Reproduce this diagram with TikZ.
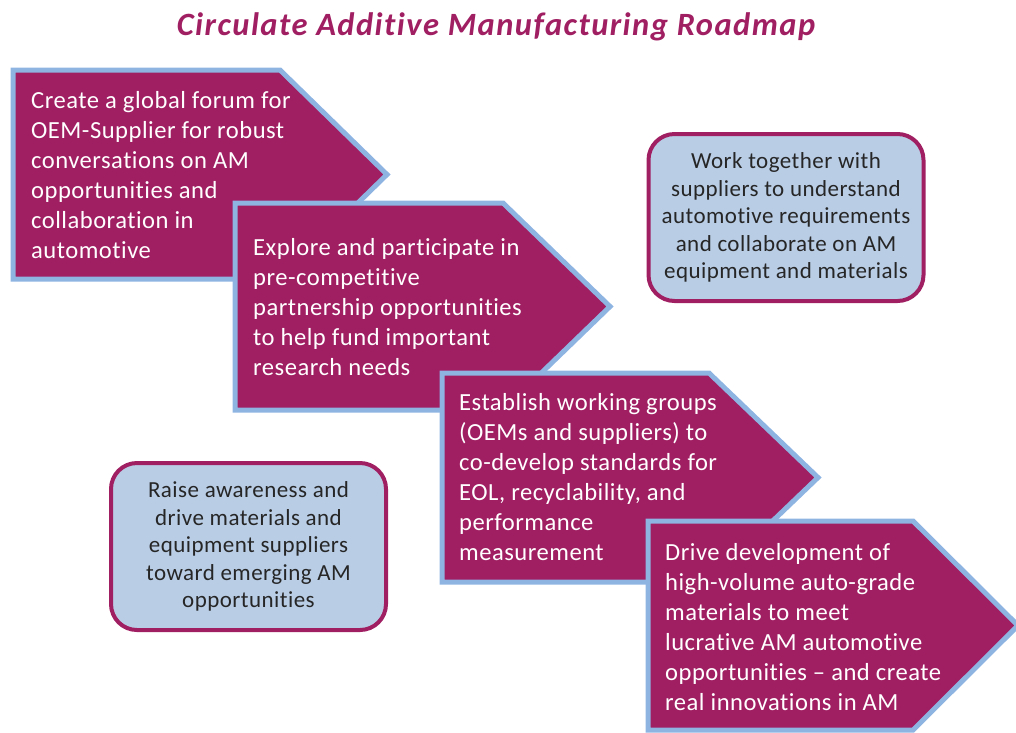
\documentclass[tikz,border=0pt]{standalone}
\usepackage{fontspec}
\setmainfont{Carlito}[Ligatures=NoCommon,LetterSpace=2.0]
\newfontfamily\titlefont{Carlito}[Ligatures=NoCommon,LetterSpace=4.5]

\definecolor{roadplum}{RGB}{160,30,98}
\definecolor{roadblue}{RGB}{142,180,226}
\definecolor{notefill}{RGB}{185,205,229}
\definecolor{notetext}{RGB}{38,38,38}

\begin{document}
\begin{tikzpicture}[x=1pt,y=-1pt,
  stepshape/.style={fill=roadplum,draw=roadblue,line width=5pt},
  steptext/.style={anchor=north west,inner sep=0pt,align=left,text=white,
    font=\fontsize{24.6}{30}\selectfont},
  notebox/.style={fill=notefill,draw=roadplum,line width=4pt,rounded corners=26pt,
    minimum width=275pt,minimum height=167pt,align=center,text=notetext,
    font=\fontsize{23}{27.5}\selectfont}]
\useasboundingbox (0,0) rectangle (1016,732);

\node[anchor=base,font=\titlefont\fontsize{32.5}{36}\selectfont\bfseries\itshape,text=roadplum] (title) at (496,35)
  {Circulate Additive Manufacturing Roadmap};

% the four roadmap steps, each one laid over the one before
\draw[stepshape] (13,70) -- (280,70) -- (387,174.5) -- (280,279) -- (13,279) -- cycle;
\node[steptext] (step1) at (31,91.5) {Create a global forum for\\OEM-Supplier for robust\\conversations on AM\\opportunities and\\collaboration in\\automotive};

\draw[stepshape] (235,203) -- (503,203) -- (610,306.5) -- (503,410) -- (235,410) -- cycle;
\node[steptext] (step2) at (253,238.5) {Explore and participate in\\pre-competitive\\partnership opportunities\\to help fund important\\research needs};

\draw[stepshape] (442,373) -- (709,373) -- (818,477.5) -- (709,582) -- (442,582) -- cycle;
\node[steptext] (step3) at (459,393.5) {Establish working groups\\(OEMs and suppliers) to\\co-develop standards for\\EOL, recyclability, and\\performance\\measurement};

\draw[stepshape] (648,521) -- (913,521) -- (1018,625.5) -- (913,730) -- (648,730) -- cycle;
\node[steptext] (step4) at (665,543.5) {Drive development of\\high-volume auto-grade\\materials to meet\\lucrative AM automotive\\opportunities -- and create\\real innovations in AM};

% side notes
\node[notebox] (noteA) at (786,217.5) {Work together with\\suppliers to understand\\automotive requirements\\and collaborate on AM\\equipment and materials};
\node[notebox] (noteB) at (248.5,546.5) {Raise awareness and\\drive materials and\\equipment suppliers\\toward emerging AM\\opportunities};
\end{tikzpicture}
\end{document}
